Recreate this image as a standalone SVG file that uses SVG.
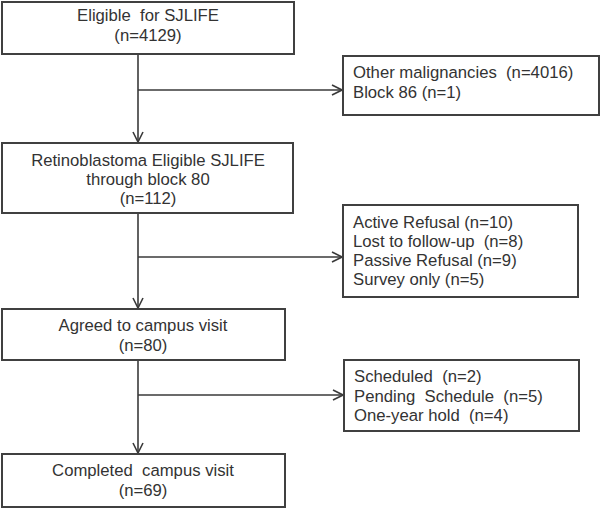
<svg xmlns="http://www.w3.org/2000/svg" width="601" height="509" viewBox="0 0 601 509">
<defs>
<marker id="arr" viewBox="0 0 12 12" refX="11" refY="6" markerWidth="12" markerHeight="12" markerUnits="userSpaceOnUse" orient="auto">
<path d="M1,1 L11,6 L1,11" fill="none" stroke="#3a3a3a" stroke-width="1.6"/>
</marker>
<style>
.box{fill:#fff;stroke:#404040;stroke-width:2}
.t{font-family:"Liberation Sans",Arial,sans-serif;font-size:16.7px;fill:#333;white-space:pre}
.c{text-anchor:middle}
.ln{fill:none;stroke:#3a3a3a;stroke-width:1.6}
</style>
</defs>
<rect width="601" height="509" fill="#fff"/>
<g id="connectors">
<line class="ln" x1="138" y1="54" x2="138" y2="142" marker-end="url(#arr)"/>
<line class="ln" x1="138" y1="90" x2="342" y2="90" marker-end="url(#arr)"/>
<line class="ln" x1="138" y1="213" x2="138" y2="308" marker-end="url(#arr)"/>
<line class="ln" x1="138" y1="257" x2="342" y2="257" marker-end="url(#arr)"/>
<line class="ln" x1="138" y1="360" x2="138" y2="453" marker-end="url(#arr)"/>
<line class="ln" x1="138" y1="395" x2="343" y2="395" marker-end="url(#arr)"/>
</g>
<g id="n1">
<rect class="box" x="2" y="2" width="292" height="52"/>
<text class="t c" x="148" y="21" xml:space="preserve">Eligible  for SJLIFE</text>
<text class="t c" x="148" y="41">(n=4129)</text>
</g>
<g id="n2">
<rect class="box" x="343" y="56" width="256" height="59"/>
<text class="t" x="353" y="78" xml:space="preserve">Other malignancies  (n=4016)</text>
<text class="t" x="353" y="98">Block 86 (n=1)</text>
</g>
<g id="n3">
<rect class="box" x="2" y="143" width="291" height="70"/>
<text class="t c" x="148" y="166">Retinoblastoma Eligible SJLIFE</text>
<text class="t c" x="148" y="185">through block 80</text>
<text class="t c" x="148" y="204">(n=112)</text>
</g>
<g id="n4">
<rect class="box" x="343" y="205" width="235" height="92"/>
<text class="t" x="353" y="228">Active Refusal (n=10)</text>
<text class="t" x="353" y="247" xml:space="preserve">Lost to follow-up  (n=8)</text>
<text class="t" x="353" y="266">Passive Refusal (n=9)</text>
<text class="t" x="353" y="285">Survey only (n=5)</text>
</g>
<g id="n5">
<rect class="box" x="2" y="309" width="283" height="51"/>
<text class="t c" x="143" y="331">Agreed to campus visit</text>
<text class="t c" x="143" y="351">(n=80)</text>
</g>
<g id="n6">
<rect class="box" x="344" y="360" width="235" height="71"/>
<text class="t" x="354" y="382" xml:space="preserve">Scheduled  (n=2)</text>
<text class="t" x="354" y="402" xml:space="preserve">Pending  Schedule  (n=5)</text>
<text class="t" x="354" y="421" xml:space="preserve">One-year hold  (n=4)</text>
</g>
<g id="n7">
<rect class="box" x="2" y="454" width="283" height="53"/>
<text class="t c" x="143" y="476" xml:space="preserve">Completed  campus visit</text>
<text class="t c" x="143" y="496">(n=69)</text>
</g>
</svg>
